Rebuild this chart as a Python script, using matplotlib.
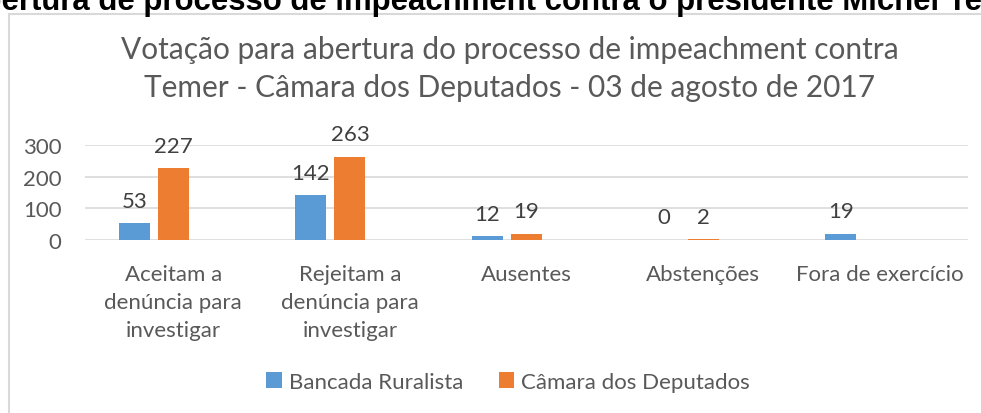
import matplotlib
matplotlib.use("Agg")
import matplotlib.pyplot as plt
from matplotlib.patches import Rectangle, Patch
import numpy as np

categories = ["Aceitam a\ndenúncia para\ninvestigar", "Rejeitam a\ndenúncia para\ninvestigar",
              "Ausentes", "Abstenções", "Fora de exercício"]
bancada = [53, 142, 12, 0, 19]
camara = [227, 263, 19, 2, None]
series_names = ["Bancada Ruralista", "Câmara dos Deputados"]
yticks = [0, 100, 200, 300]
chart_title = "Votação para abertura do processo de impeachment contra\nTemer - Câmara dos Deputados - 03 de agosto de 2017"
page_title = "Abertura de processo de impeachment contra o presidente Michel Temer"

BLUE = "#5B9BD5"
ORANGE = "#ED7D31"
GRID = "#D9D9D9"
TXT = "#595959"
LBL = "#404040"
FONT = ["Lato", "DejaVu Sans"]
plt.rcParams['font.family'] = FONT
FS = 16

W, H = 981, 414
fig = plt.figure(figsize=(W / 100, H / 100), dpi=100)

# chart border box
fig.patches.append(Rectangle((8.5 / W, -0.2), 1.2, (H - 15) / H + 0.2, transform=fig.transFigure,
                             fill=False, edgecolor=GRID, linewidth=1.5))

ax = fig.add_axes([85 / W, (H - 241) / H, (968 - 85) / W, (241 - 146) / H])
x = np.arange(len(categories))
step = 0.221
bw = 0.176
bx = x - step
ox = x
ax.bar(bx, bancada, width=bw, color=BLUE, zorder=3)
cam_vals = [v if v is not None else 0 for v in camara]
ax.bar(ox, cam_vals, width=bw, color=ORANGE, zorder=3)

for xi, v in zip(bx, bancada):
    ax.annotate(str(v), (xi, v), xytext=(0, 9), textcoords="offset points",
                ha="center", va="bottom", fontsize=FS, color=LBL, annotation_clip=False)
for xi, v in zip(ox, camara):
    if v is None:
        continue
    ax.annotate(str(v), (xi, v), xytext=(0, 9), textcoords="offset points",
                ha="center", va="bottom", fontsize=FS, color=LBL, annotation_clip=False)

ax.set_xlim(-0.5, len(categories) - 0.5)
ax.set_ylim(0, 300)
ax.set_yticks(yticks)
ax.set_xticks(x)
ax.set_xticklabels(categories, linespacing=1.5)
ax.tick_params(axis="both", length=0, labelsize=FS, labelcolor=TXT)
ax.tick_params(axis="x", pad=17)
ax.tick_params(axis="y", pad=17)
ax.grid(axis="y", color=GRID, linewidth=1.2, zorder=0)
for s in ax.spines.values():
    s.set_visible(False)

fig.text(510 / W, 1 - 69 / H, chart_title, ha="center", va="center", fontsize=21.5,
         color=TXT, linespacing=1.41)

handles = [Patch(facecolor=BLUE), Patch(facecolor=ORANGE)]
fig.legend(handles, series_names, loc="center", bbox_to_anchor=(508 / W, 1 - 383 / H), ncol=2,
           frameon=False, fontsize=FS, labelcolor=TXT, handlelength=0.7, handleheight=0.7,
           handletextpad=0.3, columnspacing=1.6)

# page title, cut at the top of the picture
PT_FS = 22.4
t = fig.text(0, 1 - 10 / H, page_title, ha="left", va="baseline", fontsize=PT_FS,
             fontweight="bold", color="black", family=["Liberation Sans", "DejaVu Sans"])
fig.canvas.draw()
r = fig.canvas.get_renderer()
tmp = fig.text(0, 0, "Ab", fontsize=PT_FS, fontweight="bold", family=["Liberation Sans", "DejaVu Sans"])
wab = tmp.get_window_extent(r).width
tmp.remove()
t.set_x(-(wab - 2) / W)

fig.savefig("out.png", dpi=100)
